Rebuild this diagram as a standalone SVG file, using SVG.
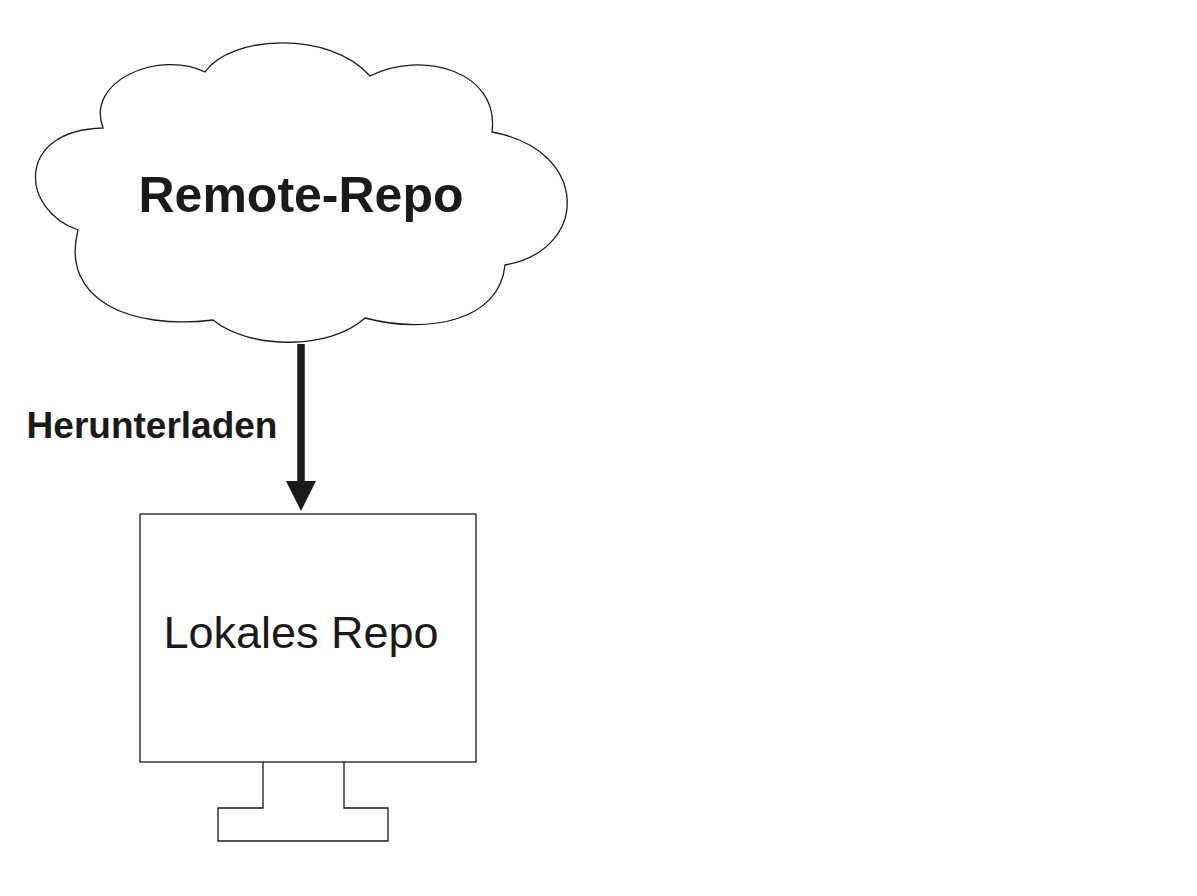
<svg xmlns="http://www.w3.org/2000/svg" width="1197" height="896" viewBox="0 0 1197 896">
<style>.o{fill:#fff;stroke:#1a1a1a;stroke-width:1.3}</style>
<defs><marker id="a" markerWidth="4" markerHeight="4" refX="2" refY="2" orient="auto"><path d="M0,0L4,2L0,4z" fill="#1a1a1a"/></marker></defs>
<rect width="1197" height="896" fill="#fff"/>
<g id="cloud"><path class="o" d="M103,128 C85,80 160,50 205,72 C230,35 330,30 370,76 C420,50 500,70 492,132 C590,150 590,250 505,265 C500,320 430,335 365,318 C330,350 250,350 213,320 C130,330 60,300 78,230 C20,210 15,130 103,128 Z"/>
<text x="301" y="212" font-family="Liberation Sans,Arial,sans-serif" font-size="50" font-weight="bold" text-anchor="middle" fill="#1a1a1a">Remote-Repo</text></g>
<g id="connectors"><line x1="301" y1="344" x2="301" y2="496" stroke="#1a1a1a" stroke-width="7.5" marker-end="url(#a)"/>
<text x="152" y="438" font-family="Liberation Sans,Arial,sans-serif" font-size="37" font-weight="bold" text-anchor="middle" fill="#1a1a1a">Herunterladen</text></g>
<g id="local"><path class="o" d="M263,762 V808 H218 V841 H388 V808 H344 V762"/>
<rect class="o" x="140" y="514" width="336" height="248"/>
<text x="301" y="648" font-family="Liberation Sans,Arial,sans-serif" font-size="45" text-anchor="middle" fill="#1a1a1a">Lokales Repo</text></g>
</svg>
